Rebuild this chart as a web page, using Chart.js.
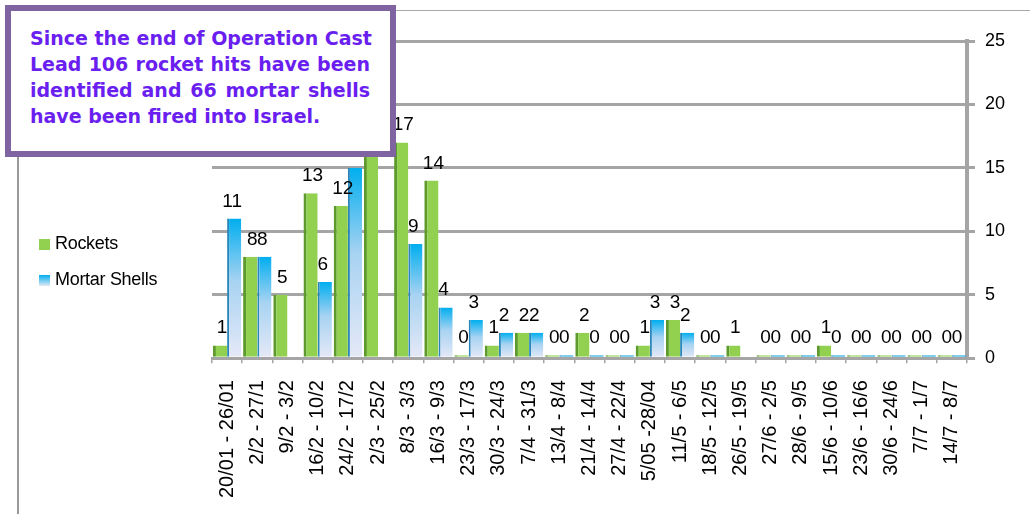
<!DOCTYPE html>
<html>
<head>
<meta charset="utf-8">
<script src="https://cdn.jsdelivr.net/npm/chart.js@4"></script>
<style>
  body { margin: 0; background: #fff; }
  #wrap { position: relative; width: 1030px; height: 514px; overflow: hidden; }
  #frame { position: absolute; left: 17px; top: 10px; right: -5px; bottom: -5px; border-top: 1px solid #a8a8a8; border-left: 2px solid #9a9a9a; }
  #chart { position: absolute; left: 0; top: 0; }
  #note {
    position: absolute; left: 5px; top: 5px; width: 391px; height: 152px; box-sizing: border-box;
    border: 6px solid #8064a2; background: #fff; padding: 14px 20px 0 19px;
    font: bold 19px "DejaVu Sans", Verdana, sans-serif; line-height: 26px; color: #6a1ff0;
  }
  #note .ln { text-align: justify; text-align-last: justify; white-space: nowrap; }
  #note .ln.last { text-align-last: left; }
  #legend { position: absolute; left: 39px; top: 232px; font: 18px "Liberation Sans", Arial, sans-serif; letter-spacing: -0.3px; color: #000; }
  #legend div { height: 36px; line-height: 22px; }
  #legend i { display: inline-block; width: 11px; height: 11px; margin-right: 5px; vertical-align: -1px; }
</style>
</head>
<body>
<div id="wrap">
  <div id="frame"></div>
  <canvas id="chart" width="1030" height="514"></canvas>
  <div id="legend">
    <div><i style="background:#92d050"></i>Rockets</div>
    <div><i style="background:linear-gradient(#00aeef,#e4e8f6)"></i>Mortar Shells</div>
  </div>
  <div id="note">
    <div class="ln">Since the end of Operation Cast</div>
    <div class="ln">Lead 106 rocket hits have been</div>
    <div class="ln">identified and 66 mortar shells</div>
    <div class="ln last">have been fired into Israel.</div>
  </div>
</div>
<script>
const weeks = [
  '20/01 - 26/01', '2/2 - 27/1', '9/2 - 3/2', '16/2 - 10/2', '24/2 - 17/2', '2/3 - 25/2',
  '8/3 - 3/3', '16/3 - 9/3', '23/3 - 17/3', '30/3 - 24/3', '7/4 - 31/3', '13/4 - 8/4',
  '21/4 - 14/4', '27/4 - 22/4', '5/05 -28/04', '11/5 - 6/5', '18/5 - 12/5', '26/5 - 19/5',
  '27/6 - 2/5', '28/6 - 9/5', '15/6 - 10/6', '23/6 - 16/6', '30/6 - 24/6', '7/7 - 1/7', '14/7 - 8/7'
];
const rockets = [1, 8, 5, 13, 12, 25, 17, 14, 0, 1, 2, 0, 2, 0, 1, 3, 0, 1, 0, 0, 1, 0, 0, 0, 0];
const mortars = [11, 8, null, 6, 15, null, 9, 4, 3, 2, 2, 0, 0, 0, 3, 2, 0, null, 0, 0, 0, 0, 0, 0, 0];
const yTicks = [0, 5, 10, 15, 20, 25];

// Mortar bars fade from blue at the top to pale lavender at the floor, per bar.
function mortarFill(ctx) {
  const chart = ctx.chart;
  if (!chart.chartArea || ctx.raw == null) return '#1aa8e0';
  const y = chart.scales.y;
  const top = y.getPixelForValue(ctx.raw);
  const base = y.getPixelForValue(0);
  if (base - top < 5) return '#1aa8e0';
  const g = chart.ctx.createLinearGradient(0, top, 0, base);
  g.addColorStop(0, '#00aeef');
  g.addColorStop(0.45, '#a8d3f2');
  g.addColorStop(1, '#e6e9f7');
  return g;
}

// Value above every bar; the pair of labels leans slightly toward each other like the 3D original.
const valueLabels = {
  id: 'valueLabels',
  afterDatasetsDraw(chart) {
    const c = chart.ctx;
    c.save();
    c.font = '19px "Liberation Sans", Arial, sans-serif';
    c.fillStyle = '#000';
    c.textAlign = 'center';
    chart.data.datasets.forEach((ds, i) => {
      const nudge = i === 0 ? 2 : -2;
      chart.getDatasetMeta(i).data.forEach((bar, j) => {
        const v = ds.data[j];
        if (v == null) return;
        c.fillText(String(v), bar.x + nudge, bar.y - 12);
      });
    });
    c.restore();
  }
};

new Chart(document.getElementById('chart'), {
  type: 'bar',
  data: {
    labels: weeks,
    datasets: [
      { label: 'Rockets', data: rockets, backgroundColor: '#92d050', borderColor: '#5c9a2e',
        borderWidth: { left: 3, top: 0, right: 0, bottom: 0 }, minBarLength: 3 },
      { label: 'Mortar Shells', data: mortars, backgroundColor: mortarFill, borderColor: '#2a86b8',
        borderWidth: { left: 2, top: 0, right: 0, bottom: 0 }, minBarLength: 3 },
    ],
  },
  options: {
    responsive: false,
    animation: false,
    categoryPercentage: 0.94,
    barPercentage: 1,
    layout: { padding: { left: 212, right: 15, top: 41, bottom: 6 } },
    plugins: { legend: { display: false }, tooltip: { enabled: false } },
    scales: {
      x: {
        afterFit: (s) => { s.height -= 7; },
        grid: { display: true, drawOnChartArea: false, tickLength: 5, color: '#a5a5a5', lineWidth: 1.5 },
        border: { color: '#a5a5a5', width: 3 },
        ticks: { minRotation: 90, maxRotation: 90, autoSkip: false, padding: 17, color: '#000',
          font: { family: '"Liberation Sans", Arial, sans-serif', size: 20 } },
      },
      y: {
        position: 'right',
        min: yTicks[0],
        max: yTicks[yTicks.length - 1],
        afterBuildTicks: (s) => { s.ticks = yTicks.map((v) => ({ value: v })); },
        grid: { color: '#a5a5a5', lineWidth: 3, tickLength: 8 },
        border: { color: '#a5a5a5', width: 4 },
        ticks: { padding: 10, color: '#000', font: { family: '"Liberation Sans", Arial, sans-serif', size: 18 } },
      },
    },
  },
  plugins: [valueLabels],
});
</script>
</body>
</html>
